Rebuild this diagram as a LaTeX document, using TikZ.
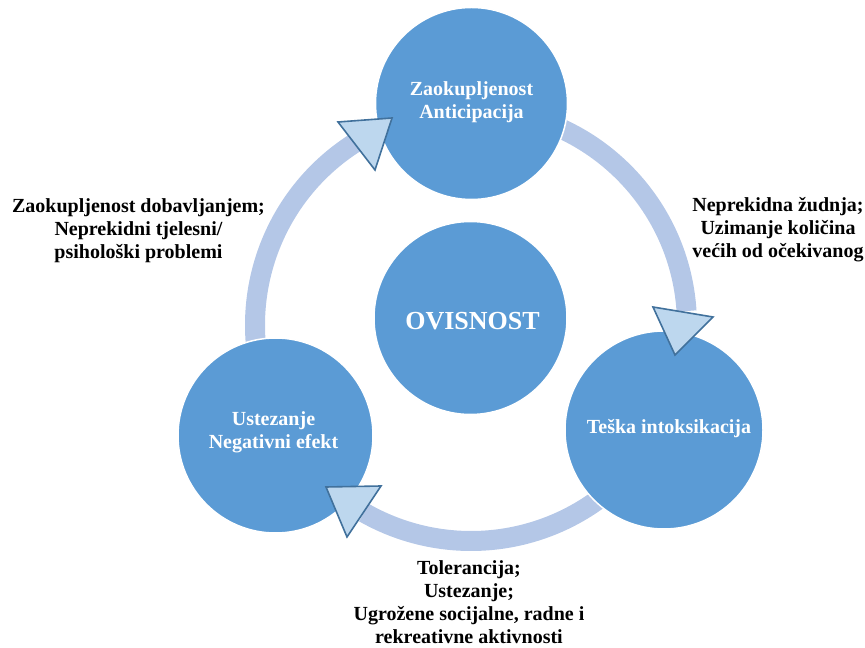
\documentclass[tikz,border=0pt]{standalone}
\usepackage{fontspec}
\setmainfont{Liberation Serif}
\usetikzlibrary{calc}
\definecolor{bubblue}{RGB}{91,155,213}
\definecolor{ringblue}{RGB}{180,199,231}
\definecolor{headfill}{RGB}{189,215,238}
\definecolor{headline}{RGB}{65,113,156}
\begin{document}
\begin{tikzpicture}[x=1pt,y=1pt,
  ring/.style={draw=ringblue, line width=20pt},
  bub/.style={circle, fill=bubblue, draw=white, line width=1.5pt, inner sep=0pt},
  ahead/.style={fill=headfill, draw=headline, line width=1.6pt, line join=miter},
  ctext/.style={text=white, font=\bfseries\fontsize{20}{23}\selectfont, align=center, inner sep=0pt},
  ltext/.style={text=black, font=\bfseries\fontsize{20}{23}\selectfont, align=center, inner sep=0pt}]
\useasboundingbox (0,0) rectangle (865,648);
\coordinate (C) at (471,323);
\def\R{216}
% ring segments
\draw[ring] ([shift={(90:\R)}]C) arc[start angle=90, end angle=3.7, radius=\R];
\draw[ring] ([shift={(-28:\R)}]C) arc[start angle=-28, end angle=-119.7, radius=\R];
\draw[ring] ([shift={(209.5:\R)}]C) arc[start angle=209.5, end angle=122.5, radius=\R];
% circles
\node[bub, minimum size=192pt] (top) at (471.5,544.5) {};
\node[bub, minimum size=193pt] (mid) at (470.5,330) {};
\node[bub, minimum size=198pt] (right) at (664,218) {};
\node[bub, minimum size=195pt] (left) at (275.5,212.5) {};
% arrowheads
\coordinate (a1b1) at (338,526); \coordinate (a1b2) at (375,478); \coordinate (a1t) at (392,530);
\coordinate (a2b1) at (653,341); \coordinate (a2b2) at (713,331); \coordinate (a2t) at (675,293);
\coordinate (a3b1) at (381,162); \coordinate (a3b2) at (347,111); \coordinate (a3t) at (326,161);
\draw[ahead] (a1b1) -- (a1t) -- (a1b2) -- cycle;
\draw[ahead] (a2b1) -- (a2b2) -- (a2t) -- cycle;
\draw[ahead] (a3b1) -- (a3t) -- (a3b2) -- cycle;
% circle texts
\node[ctext] (ttop) at (471.5,546) {Zaokupljenost\\Anticipacija};
\node[ctext, font=\bfseries\fontsize{26}{30}\selectfont] (tmid) at (472.5,327) {OVISNOST};
\node[ctext] (tleft) at (273.5,216) {Ustezanje\\Negativni efekt};
\node[ctext] (tright) at (669,219) {Teška intoksikacija};
% outside labels
\node[ltext] (lleft) at (138.5,417) {Zaokupljenost dobavljanjem;\\Neprekidni tjelesni/\\psihološki problemi};
\node[ltext] (lright) at (778,418) {Neprekidna žudnja;\\Uzimanje količina\\većih od očekivanog};
\node[ltext] (lbottom) at (469,46) {Tolerancija;\\Ustezanje;\\Ugrožene socijalne, radne i\\rekreativne aktivnosti};
\end{tikzpicture}
\end{document}
